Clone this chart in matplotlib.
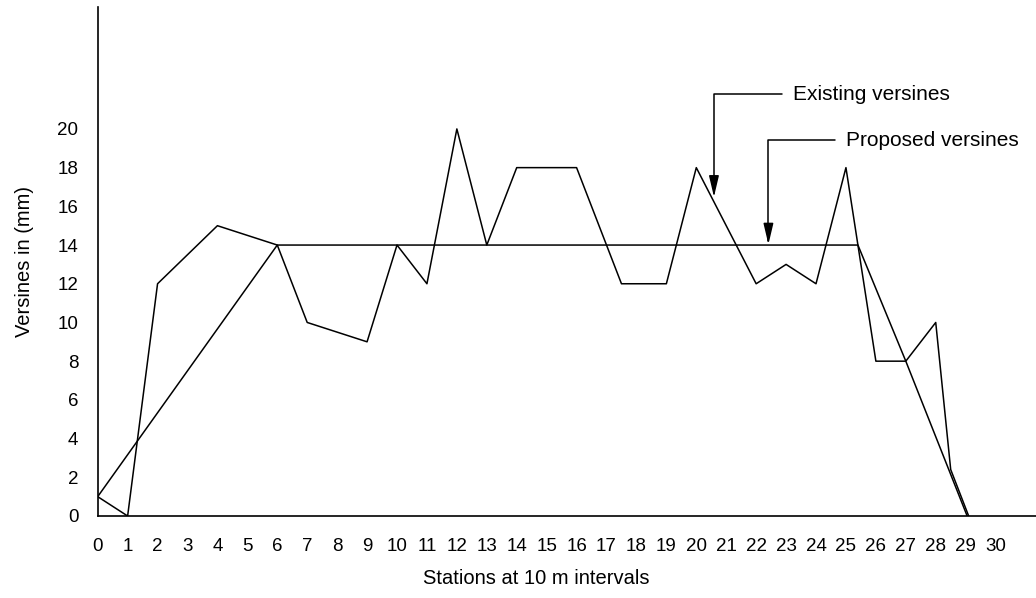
import matplotlib.pyplot as plt

plt.rcParams['font.family'] = ['Liberation Sans', 'DejaVu Sans']

# existing versines (mm) read at each vertex of the zigzag line
existing_x = [0, 1, 2, 4, 6, 7, 9, 10, 11, 12, 13, 14, 16, 17.5, 19, 20, 21, 22,
              23, 24, 25, 26, 27, 28, 28.5, 29.1]
existing_y = [1, 0, 12, 15, 14, 10, 9, 14, 12, 20, 14, 18, 18, 12, 12, 18, 15, 12,
              13, 12, 18, 8, 8, 10, 2.4, 0]

# proposed versines (mm)
proposed_x = [0, 6, 25.4, 27, 29.05]
proposed_y = [1, 14, 14, 8, 0]

stations = list(range(0, 31))
yticks = list(range(0, 21, 2))

fig = plt.figure(figsize=(10.36, 5.98), dpi=100)
ax = fig.add_axes([97.7 / 1036, 82 / 598, 1 - 97.7 / 1036, 509 / 598])

ax.plot(existing_x, existing_y, color='black', lw=1.1)
ax.plot(proposed_x, proposed_y, color='black', lw=1.1)

ax.set_xlim(0, 31.35)
ax.set_ylim(0, 26.3)
ax.set_xticks(stations)
ax.set_yticks(yticks)
ax.tick_params(length=0, labelsize=13.5)
ax.tick_params(axis='x', pad=16)
ax.tick_params(axis='y', pad=14)

for side in ['top', 'right']:
    ax.spines[side].set_visible(False)
for side in ['left', 'bottom']:
    ax.spines[side].set_linewidth(1.2)

ax.set_xlabel('Stations at 10 m intervals', fontsize=14.5)
ax.xaxis.set_label_coords(0.467, -0.105)
ax.set_ylabel('Versines in (mm)', fontsize=14.5)
ax.yaxis.set_label_coords(-0.068, 0.5)

arrow = dict(arrowstyle='-|>,head_length=0.85,head_width=0.2', color='black',
             lw=1.1, shrinkA=6, shrinkB=0,
             connectionstyle='angle,angleA=0,angleB=90,rad=0')
ax.annotate('Existing versines', xy=(20.59, 16.49), xytext=(23.22, 21.8),
            ha='left', va='center', fontsize=15, arrowprops=arrow)
ax.annotate('Proposed versines', xy=(22.41, 14.03), xytext=(25.0, 19.42),
            ha='left', va='center', fontsize=15, arrowprops=arrow)

fig.savefig('out.png', dpi=100)
